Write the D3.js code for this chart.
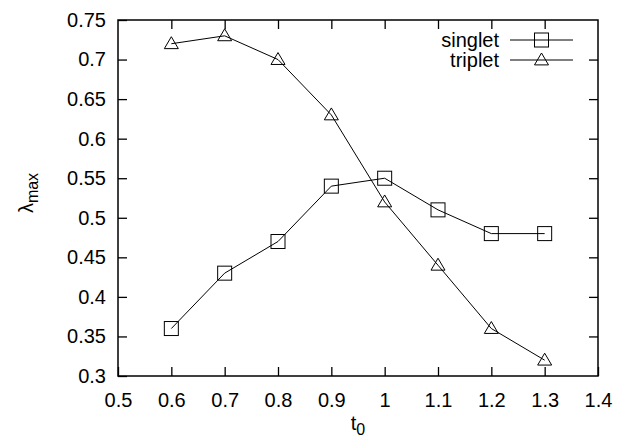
<!DOCTYPE html>
<html>
<head>
<meta charset="utf-8">
<script src="https://cdn.jsdelivr.net/npm/d3@7"></script>
<style>
  body { margin: 0; background: #fff; }
  text { font-family: "Liberation Sans", Arial, sans-serif; fill: #000; }
</style>
</head>
<body>
<svg id="chart" width="617" height="437"></svg>
<script>
// t0 values and lambda_max for each channel
const t0 = [0.6, 0.7, 0.8, 0.9, 1.0, 1.1, 1.2, 1.3];
const singlet = [0.36, 0.43, 0.47, 0.54, 0.55, 0.51, 0.48, 0.48];
const triplet = [0.72, 0.73, 0.70, 0.63, 0.52, 0.44, 0.36, 0.32];
const xTicks = [0.5, 0.6, 0.7, 0.8, 0.9, 1, 1.1, 1.2, 1.3, 1.4];
const yTicks = [0.3, 0.35, 0.4, 0.45, 0.5, 0.55, 0.6, 0.65, 0.7, 0.75];

const margin = {left: 118, right: 19, top: 20, bottom: 61},
    W = 617, H = 437,
    w = W - margin.left - margin.right,
    h = H - margin.top - margin.bottom;

const svg = d3.select("#chart");
const g = svg.append("g").attr("transform", "translate(" + margin.left + "," + margin.top + ")");

const x = d3.scaleLinear().domain([0.5, 1.4]).range([0, w]);
const y = d3.scaleLinear().domain([0.3, 0.75]).range([h, 0]);

const fmt = d => String(+d.toFixed(2));
const tickLen = 9;

// axes with inward ticks (gnuplot style, mirrored)
function styleAxis(sel) {
  sel.select(".domain").remove();
  sel.selectAll(".tick line").attr("stroke", "#000").attr("stroke-width", 1.3);
  sel.selectAll(".tick text").style("font-size", "20px");
}
g.append("g").attr("transform", "translate(0," + h + ")")
  .call(d3.axisBottom(x).tickValues(xTicks).tickFormat(fmt).tickSizeInner(-tickLen).tickPadding(17))
  .call(styleAxis);
g.append("g")
  .call(d3.axisTop(x).tickValues(xTicks.slice(1, -1)).tickFormat("").tickSizeInner(-tickLen))
  .call(styleAxis);
g.append("g")
  .call(d3.axisLeft(y).tickValues(yTicks).tickFormat(fmt).tickSizeInner(-tickLen).tickPadding(12))
  .call(styleAxis);
g.append("g").attr("transform", "translate(" + w + ",0)")
  .call(d3.axisRight(y).tickValues(yTicks.slice(1, -1)).tickFormat("").tickSizeInner(-tickLen))
  .call(styleAxis);

g.append("rect").attr("width", w).attr("height", h)
  .attr("fill", "none").attr("stroke", "#000").attr("stroke-width", 1.5);

const line = d3.line().x((d, i) => x(t0[i])).y(d => y(d));

const sq = 14, tri = 7;
function square(sel, cx, cy) {
  sel.append("rect").attr("x", cx - sq / 2).attr("y", cy - sq / 2)
    .attr("width", sq).attr("height", sq)
    .attr("fill", "none").attr("stroke", "#000").attr("stroke-width", 1);
}
function triangle(sel, cx, cy) {
  sel.append("path")
    .attr("d", "M" + cx + "," + (cy - tri) + "L" + (cx + tri) + "," + (cy + tri * 0.7) + "L" + (cx - tri) + "," + (cy + tri * 0.7) + "Z")
    .attr("fill", "none").attr("stroke", "#000").attr("stroke-width", 1);
}

g.append("path").datum(singlet).attr("d", line)
  .attr("fill", "none").attr("stroke", "#000").attr("stroke-width", 1);
singlet.forEach((v, i) => square(g, x(t0[i]), y(v)));

g.append("path").datum(triplet).attr("d", line)
  .attr("fill", "none").attr("stroke", "#000").attr("stroke-width", 1);
triplet.forEach((v, i) => triangle(g, x(t0[i]), y(v)));

// legend
const legend = [{name: "singlet", mark: square}, {name: "triplet", mark: triangle}];
legend.forEach((d, i) => {
  const ly = 40 + i * 20;
  svg.append("text").attr("x", 499).attr("y", ly + 7)
    .attr("text-anchor", "end").style("font-size", "20px").text(d.name);
  svg.append("line").attr("x1", 510).attr("x2", 573).attr("y1", ly).attr("y2", ly)
    .attr("stroke", "#000").attr("stroke-width", 1);
  d.mark(svg, 541.5, ly);
});

// axis titles
const xt = svg.append("text").attr("x", 358).attr("y", 430)
  .attr("text-anchor", "middle").style("font-size", "20px");
xt.append("tspan").text("t");
xt.append("tspan").attr("dy", 5).style("font-size", "16px").text("0");

const yt = svg.append("text").attr("transform", "translate(33,193) rotate(-90)")
  .attr("text-anchor", "middle").style("font-size", "20px");
yt.append("tspan").text("λ");
yt.append("tspan").attr("dy", 5).style("font-size", "16px").text("max");
</script>
</body>
</html>
